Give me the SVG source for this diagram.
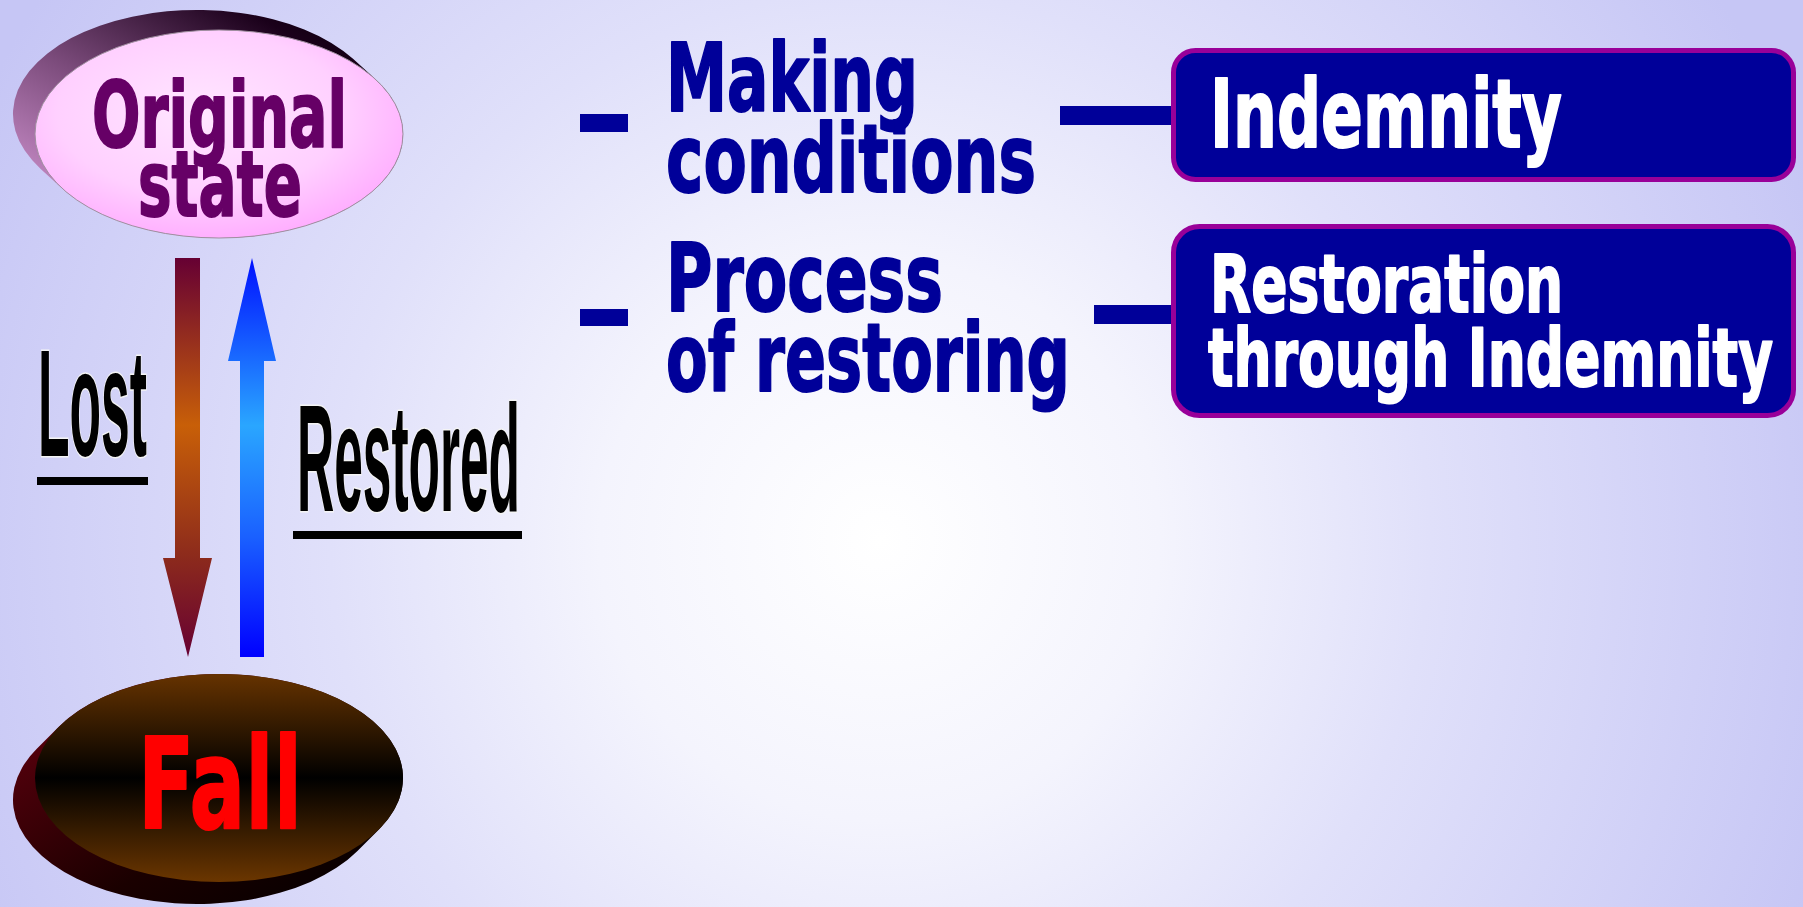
<svg xmlns="http://www.w3.org/2000/svg" width="1803" height="907" viewBox="0 0 1803 907">
<defs>
<radialGradient id="bg" gradientUnits="userSpaceOnUse" cx="880" cy="540" r="1000">
<stop offset="0" stop-color="#ffffff"/>
<stop offset="0.28" stop-color="#f4f4fd"/>
<stop offset="0.55" stop-color="#e0e0fa"/>
<stop offset="1" stop-color="#c6c6f5"/>
</radialGradient>
<linearGradient id="origSide" x1="0" y1="1" x2="1" y2="0">
<stop offset="0" stop-color="#e6a6e6"/>
<stop offset="0.45" stop-color="#7a4a7a"/>
<stop offset="0.8" stop-color="#1a001a"/>
<stop offset="1" stop-color="#000000"/>
</linearGradient>
<radialGradient id="origFace" cx="0.45" cy="0.4" r="0.65">
<stop offset="0" stop-color="#ffe6ff"/>
<stop offset="0.6" stop-color="#ffd0ff"/>
<stop offset="1" stop-color="#ffa8ff"/>
</radialGradient>
<linearGradient id="fallSide" x1="0" y1="0" x2="1" y2="1">
<stop offset="0" stop-color="#6a0010"/>
<stop offset="0.6" stop-color="#1a0000"/>
<stop offset="1" stop-color="#000000"/>
</linearGradient>
<linearGradient id="fallFace" x1="0" y1="0" x2="0" y2="1">
<stop offset="0" stop-color="#663300"/>
<stop offset="0.5" stop-color="#000000"/>
<stop offset="1" stop-color="#6b3600"/>
</linearGradient>
<linearGradient id="downGrad" gradientUnits="userSpaceOnUse" x1="0" y1="258" x2="0" y2="657">
<stop offset="0" stop-color="#660033"/>
<stop offset="0.42" stop-color="#c85f08"/>
<stop offset="0.75" stop-color="#8c2a1c"/>
<stop offset="1" stop-color="#660033"/>
</linearGradient>
<linearGradient id="upGrad" gradientUnits="userSpaceOnUse" x1="0" y1="258" x2="0" y2="657">
<stop offset="0" stop-color="#0010ff"/>
<stop offset="0.42" stop-color="#2aa6ff"/>
<stop offset="0.7" stop-color="#1a60ff"/>
<stop offset="1" stop-color="#0000ff"/>
</linearGradient>
<style>
.blue{font-family:"DejaVu Sans","Liberation Sans",sans-serif;font-weight:bold;font-size:94px;fill:#000099;stroke:#000099;stroke-width:2;stroke-linejoin:round}
.box{fill:#000099;stroke:#990099;stroke-width:5}
.boxt{font-family:"DejaVu Sans","Liberation Sans",sans-serif;font-weight:bold;fill:#ffffff;stroke:#ffffff;stroke-width:2;stroke-linejoin:round}
.lbl{font-family:"Liberation Sans",Arial,sans-serif;font-weight:bold;font-size:152px;fill:#000;stroke:#f4f4f4;stroke-width:3;paint-order:stroke}
.node{font-family:"DejaVu Sans","Liberation Sans",sans-serif;font-weight:bold;stroke-width:2;stroke-linejoin:round}
.conn{fill:#000099}
</style>
</defs>
<rect x="0" y="0" width="1803" height="907" fill="url(#bg)"/>

<g id="node-original">
<path d="M62.7,188.9 L40.7,168.9 A184,104 0 0 1 353.3,59.1 L375.3,79.1 A184,104 0 0 1 62.7,188.9 Z" fill="url(#origSide)"/>
<ellipse cx="219" cy="134" rx="184" ry="104" fill="url(#origFace)" stroke="#a090a0" stroke-width="1"/>
<text class="node" x="92" y="147" font-size="90" fill="#660066" stroke="#660066" textLength="255" lengthAdjust="spacingAndGlyphs">Original</text>
<text class="node" x="138" y="216" font-size="90" fill="#660066" stroke="#660066" textLength="164" lengthAdjust="spacingAndGlyphs">state</text>
</g>

<g id="node-fall">
<path d="M58.8,726.8 L36.8,748.8 A184,104 0 0 0 357.2,851.2 L379.2,829.2 A184,104 0 0 0 58.8,726.8 Z" fill="url(#fallSide)"/>
<ellipse cx="219" cy="778" rx="184" ry="104" fill="url(#fallFace)"/>
<text class="node" x="138" y="828" font-size="126" fill="#ff0000" stroke="#ff0000" textLength="164" lengthAdjust="spacingAndGlyphs">Fall</text>
</g>

<g id="connectors">
<path id="arrow-lost" d="M175,258 H200 V558 H212 L188,657 L163,558 H175 Z" fill="url(#downGrad)"/>
<path id="arrow-restored" d="M240,657 V361 H228 L252,258 L276,361 H264 V657 Z" fill="url(#upGrad)"/>
<rect class="conn" x="1060" y="106" width="113" height="19"/>
<rect class="conn" x="1094" y="305" width="79" height="19"/>
</g>

<g id="label-lost">
<text class="lbl" x="38" y="456" textLength="109" lengthAdjust="spacingAndGlyphs">Lost</text>
<rect x="37" y="477" width="111" height="8" fill="#000"/>
</g>

<g id="label-restored">
<text class="lbl" x="297" y="511" textLength="223" lengthAdjust="spacingAndGlyphs">Restored</text>
<rect x="293" y="531" width="229" height="8" fill="#000"/>
</g>

<g id="node-making">
<rect class="conn" x="580" y="114" width="48" height="18"/>
<text class="blue" x="666" y="111" textLength="252" lengthAdjust="spacingAndGlyphs">Making</text>
<text class="blue" x="666" y="192" textLength="370" lengthAdjust="spacingAndGlyphs">conditions</text>
</g>

<g id="node-process">
<rect class="conn" x="580" y="309" width="48" height="17"/>
<text class="blue" x="666" y="311" textLength="277" lengthAdjust="spacingAndGlyphs">Process</text>
<text class="blue" x="666" y="391" textLength="404" lengthAdjust="spacingAndGlyphs">of restoring</text>
</g>

<g id="node-indemnity">
<rect class="box" x="1173.5" y="50.5" width="620" height="129" rx="22"/>
<text class="boxt" x="1210" y="147" font-size="95" textLength="352" lengthAdjust="spacingAndGlyphs">Indemnity</text>
</g>

<g id="node-restoration">
<rect class="box" x="1173.5" y="226.5" width="620" height="189" rx="26"/>
<text class="boxt" x="1210" y="312" font-size="81" textLength="353" lengthAdjust="spacingAndGlyphs">Restoration</text>
<text class="boxt" x="1208" y="386" font-size="81" textLength="565" lengthAdjust="spacingAndGlyphs">through Indemnity</text>
</g>
</svg>
